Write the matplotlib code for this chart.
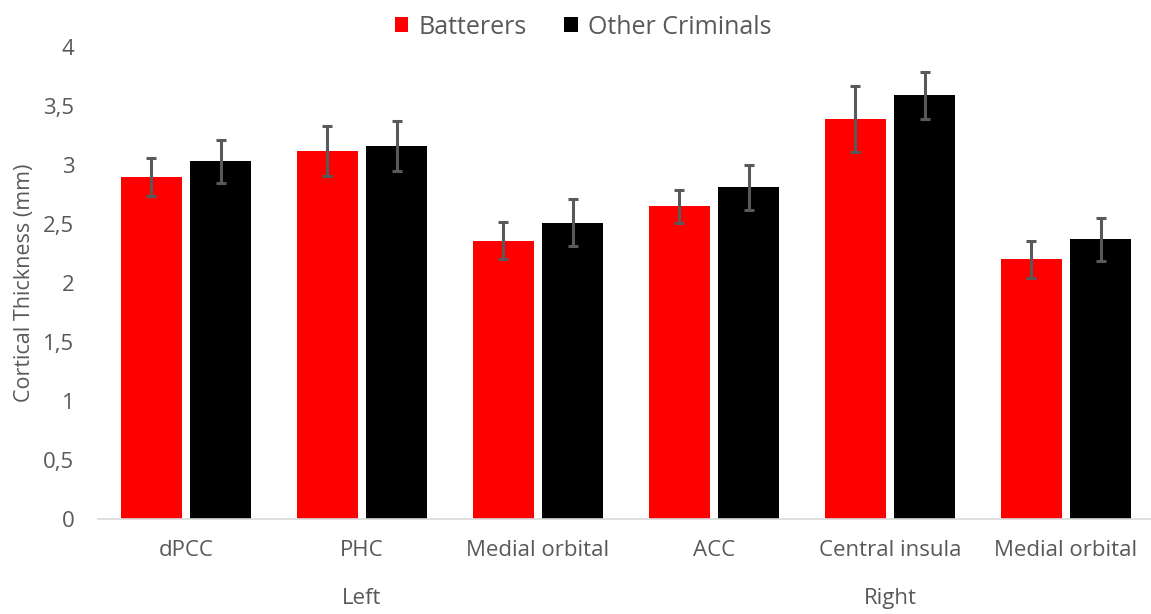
import numpy as np
import matplotlib.pyplot as plt

plt.rcParams['font.family'] = ['Open Sans', 'DejaVu Sans']

regions = ['dPCC', 'PHC', 'Medial orbital', 'ACC', 'Central insula', 'Medial orbital']
sides = ['Left', 'Right']
side_pos = [1, 4]
batterers = [2.90, 3.12, 2.36, 2.65, 3.39, 2.20]
batterers_err = [0.16, 0.21, 0.16, 0.14, 0.28, 0.16]
others = [3.03, 3.16, 2.51, 2.81, 3.59, 2.37]
others_err = [0.18, 0.21, 0.20, 0.19, 0.20, 0.18]
yticks = [0, 0.5, 1, 1.5, 2, 2.5, 3, 3.5, 4]

grey = '#595959'
x = np.arange(len(regions))
w = 0.347
off = w / 2 + 0.024

fig = plt.figure(figsize=(11.51, 6.14), dpi=100)
ax = fig.add_axes([0.0851, 0.1547, 0.9175, 0.7688])

ek = dict(ecolor=grey, elinewidth=2.2, capsize=3.8, capthick=2.2)
ax.bar(x - off, batterers, w, yerr=batterers_err, color='#ff0000', label='Batterers', error_kw=ek)
ax.bar(x + off, others, w, yerr=others_err, color='#000000', label='Other Criminals', error_kw=ek)

ax.set_xlim(-0.5, len(regions) - 0.5)
ax.set_ylim(0, 4)
ax.set_yticks(yticks)
ax.set_yticklabels([('%g' % t).replace('.', ',') for t in yticks])
ax.set_xticks(x)
ax.set_xticklabels(regions)
ax.tick_params(length=0, labelsize=16, labelcolor=grey)
ax.tick_params(axis='y', pad=17)
ax.tick_params(axis='x', pad=15)
ax.set_ylabel('Cortical Thickness (mm)', fontsize=15.5, color=grey, labelpad=6)

for s in ['top', 'right', 'left']:
    ax.spines[s].set_visible(False)
ax.spines['bottom'].set_color('#d9d9d9')
ax.spines['bottom'].set_linewidth(1.2)

# hemisphere labels under the region names
for name, pos in zip(sides, side_pos):
    ax.text(pos, -0.168, name, transform=ax.get_xaxis_transform(), ha='center', va='center',
            fontsize=16, color=grey)

fig.legend(loc='center', bbox_to_anchor=(0.5065, 0.956), ncol=2, frameon=False,
           fontsize=18, labelcolor=grey, handlelength=0.55, handleheight=0.55,
           handletextpad=0.4, columnspacing=1.5)

fig.savefig('out.png')
